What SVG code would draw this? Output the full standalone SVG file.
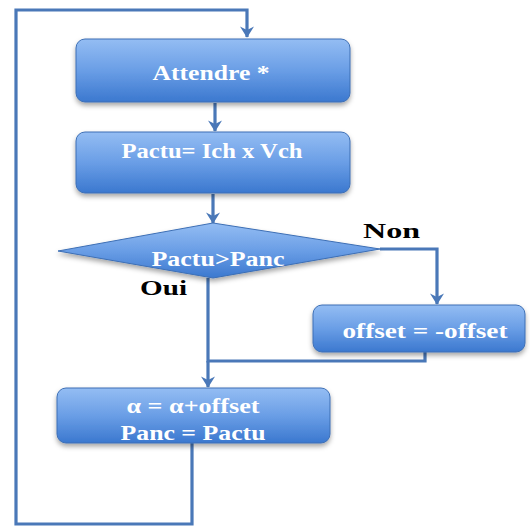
<svg xmlns="http://www.w3.org/2000/svg" width="530" height="526" viewBox="0 0 530 526">
<defs>
<linearGradient id="g" x1="0" y1="0" x2="0" y2="1">
<stop offset="0" stop-color="#94bdf3"/>
<stop offset="0.5" stop-color="#6a9ee6"/>
<stop offset="1" stop-color="#3b78cf"/>
</linearGradient>
<filter id="sh" x="-10%" y="-10%" width="120%" height="140%">
<feDropShadow dx="0" dy="3" stdDeviation="2.5" flood-color="#000" flood-opacity="0.35"/>
</filter>
<marker id="ar" viewBox="0 0 10 10" refX="9.5" refY="5" markerWidth="14" markerHeight="14" markerUnits="userSpaceOnUse" orient="auto">
<path d="M2,0 L10,5 L2,10 L4.5,5 Z" fill="#4a78b8"/>
</marker>
</defs>
<style>
.box{fill:url(#g);stroke:#3d6fb5;stroke-width:1;filter:url(#sh)}
.t{font-family:"Liberation Serif",serif;font-weight:bold;fill:#ffffff;text-anchor:middle}
.l{font-family:"Liberation Serif",serif;font-weight:bold;fill:#000000;font-size:21px}
.c{fill:none;stroke:#4a78b8;stroke-width:3.2}
</style>
<rect width="530" height="526" fill="#ffffff"/>
<g id="connectors">
<polyline class="c" points="192,443 192,524 16,524 16,10 247,10 247,37" marker-end="url(#ar)"/>
<line class="c" x1="215" y1="103" x2="215" y2="131" marker-end="url(#ar)"/>
<line class="c" x1="213" y1="194" x2="213" y2="223" marker-end="url(#ar)"/>
<polyline class="c" points="380,249 437,249 437,304" marker-end="url(#ar)"/>
<polyline class="c" points="208,278 208,361 425,361 425,352"/>
<line class="c" x1="208" y1="361" x2="208" y2="387" marker-end="url(#ar)"/>
</g>
<g id="n1">
<rect class="box" x="76" y="39" width="274" height="63" rx="9"/>
<text class="t" x="211" y="80" font-size="22" textLength="117" lengthAdjust="spacingAndGlyphs">Attendre *</text>
</g>
<g id="n2">
<rect class="box" x="76" y="132" width="274" height="61" rx="9"/>
<text class="t" x="212" y="158" font-size="22" textLength="181" lengthAdjust="spacingAndGlyphs">Pactu= Ich x Vch</text>
</g>
<g id="n3">
<polygon class="box" points="213,223 380,249 213,278 58,251"/>
<text class="t" x="218" y="266" font-size="21" textLength="133" lengthAdjust="spacingAndGlyphs">Pactu&gt;Panc</text>
</g>
<text class="l" x="363" y="238" textLength="57" lengthAdjust="spacingAndGlyphs">Non</text>
<text class="l" x="140" y="295" textLength="47" lengthAdjust="spacingAndGlyphs">Oui</text>
<g id="n4">
<rect class="box" x="313" y="305" width="212" height="47" rx="9"/>
<text class="t" x="425" y="338" font-size="22" textLength="165" lengthAdjust="spacingAndGlyphs">offset = -offset</text>
</g>
<g id="n5">
<rect class="box" x="57" y="388" width="273" height="55" rx="9"/>
<text class="t" x="193" y="413" font-size="22" textLength="133" lengthAdjust="spacingAndGlyphs">α = α+offset</text>
<text class="t" x="193" y="440" font-size="22" textLength="145" lengthAdjust="spacingAndGlyphs">Panc = Pactu</text>
</g>
</svg>
